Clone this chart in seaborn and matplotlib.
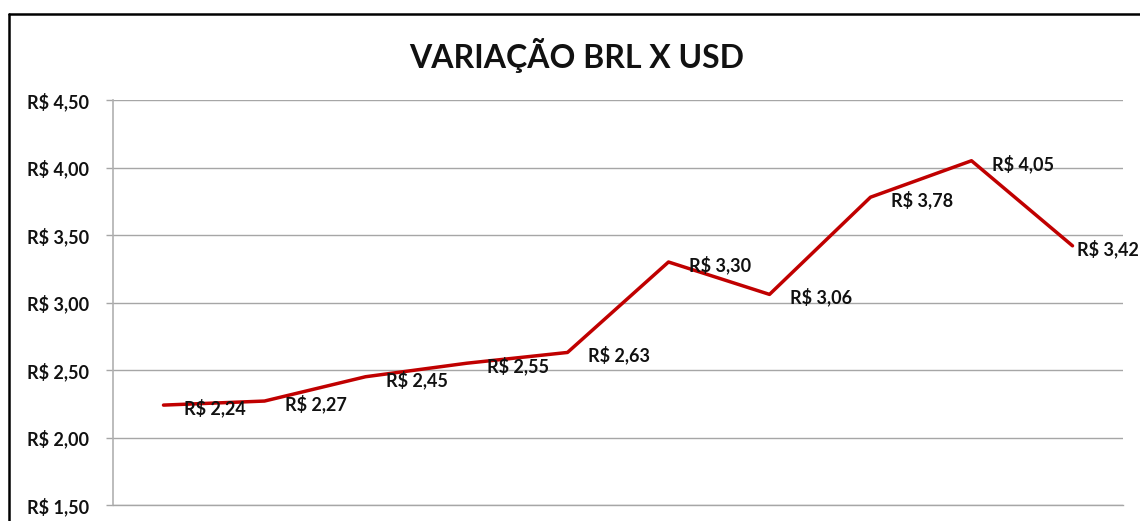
import matplotlib
matplotlib.use("Agg")
import matplotlib.pyplot as plt
import seaborn as sns
import pandas as pd
from matplotlib.lines import Line2D

# ============================
# Data
# ============================

periodos = ['P1', 'P2', 'P3', 'P4', 'P5', 'P6', 'P7', 'P8', 'P9', 'P10']
cotacao = [2.24, 2.27, 2.45, 2.55, 2.63, 3.30, 3.06, 3.78, 4.05, 3.42]
y_ticks = [1.50, 2.00, 2.50, 3.00, 3.50, 4.00, 4.50]
titulo = 'VARIAÇÃO BRL X USD'

df = pd.DataFrame({'Periodo': periodos, 'Cotacao': cotacao})
df['pos'] = range(len(df))


def brl(v):
    return 'R$ ' + f'{v:.2f}'.replace('.', ',')


# ============================
# Plotting
# ============================

sns.set_style('white')
plt.rcParams['font.family'] = ['Lato', 'DejaVu Sans']

fig = plt.figure(figsize=(11.4, 5.21), dpi=100)
ax = fig.add_axes([113 / 1140, 1 - 505 / 521, 1010 / 1140, 405 / 521])

sns.lineplot(data=df, x='pos', y='Cotacao', ax=ax, color='#C00000',
             linewidth=2.5, marker=None)

last = len(df) - 1
for x, v in zip(df['pos'], df['Cotacao']):
    # the last label is pushed in so it stays inside the chart
    dx = 3 if x == last else 15
    ax.annotate(brl(v), (x, v), xytext=(dx, -2), textcoords='offset points',
                ha='left', va='center', fontsize=13, fontweight='bold',
                color='#111111')

ax.set_xlim(-0.5, len(df) - 0.5)
ax.set_ylim(1.5, 4.5)
ax.set_yticks(y_ticks)
ax.set_yticklabels([brl(v) for v in y_ticks], fontsize=13,
                   fontweight='bold', color='#111111')
ax.set_xticks([])
ax.set_xlabel('')
ax.set_ylabel('')

ax.yaxis.grid(True, color='#a6a6a6', linewidth=1)
ax.tick_params(axis='y', length=5, width=1, color='#a6a6a6', pad=12, left=True)
for s in ['top', 'right']:
    ax.spines[s].set_visible(False)
ax.spines['left'].set_color('#b0b0b0')
ax.spines['left'].set_linewidth(1.2)
ax.spines['bottom'].set_color('#a6a6a6')
ax.spines['bottom'].set_linewidth(1)

fig.text(577 / 1140, 1 - 55 / 521, titulo, ha='center', va='center',
         fontsize=23, fontweight='bold', color='#111111')

# chart frame (cropped at right and bottom)
fig.add_artist(Line2D([9 / 1140, 9 / 1140], [0, 1 - 14 / 521],
                      transform=fig.transFigure, color='black', linewidth=1.8))
fig.add_artist(Line2D([9 / 1140, 1], [1 - 14 / 521, 1 - 14 / 521],
                      transform=fig.transFigure, color='black', linewidth=1.8))

plt.savefig('out.png', dpi=100)
